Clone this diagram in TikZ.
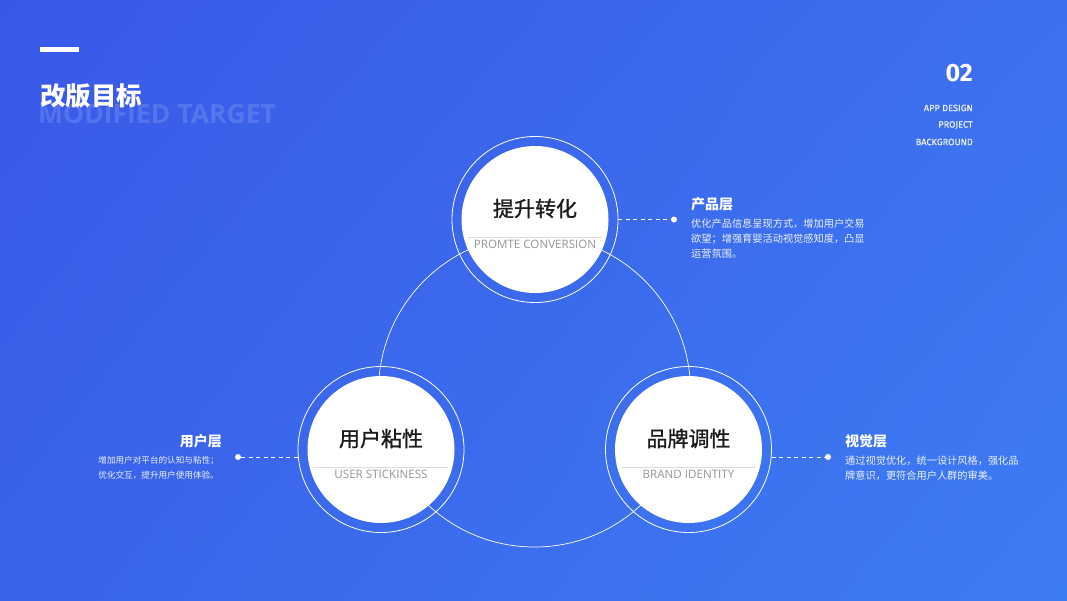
\documentclass[tikz,border=0pt]{standalone}
\usepackage{fontspec}
\setmainfont{Noto Sans CJK SC}
\newfontfamily\hubfont{Noto Sans CJK SC}[FakeBold=1.2]
\newfontfamily\enfont{Open Sans}
\newfontfamily\dinfont{Fira Sans}
\newfontfamily\dintag{Fira Sans}[FakeBold=0.8]
\usetikzlibrary{positioning,calc,shadings}
\definecolor{bgul}{HTML}{3A58E8}
\definecolor{bgur}{HTML}{3C70EF}
\definecolor{bgll}{HTML}{3A63EA}
\definecolor{bglr}{HTML}{3D7DF3}
\definecolor{chordgray}{HTML}{DDDDDD}
\definecolor{engray}{HTML}{959595}
\definecolor{hubink}{HTML}{1C1C1C}

\begin{document}
\begin{tikzpicture}[x=1pt, y=-1pt,
  hub/.style={circle, fill=white, minimum size=147pt, inner sep=0pt},
  ring/.style={draw=white, line width=0.8pt},
  orbit/.style={draw=white, line width=0.7pt},
  hubtitle/.style={font=\hubfont\fontsize{21}{21}\selectfont, text=hubink, inner sep=0pt},
  hubsub/.style={font=\enfont\fontsize{11.6}{11.6}\selectfont, text=engray, inner sep=0pt},
  chord/.style={draw=chordgray, line width=0.6pt},
  link/.style={draw=white, line width=0.7pt, dash pattern=on 4pt off 3.5pt},
  dot/.style={circle, fill=white, minimum size=6pt, inner sep=0pt},
  layer/.style={font=\bfseries\fontsize{14}{14}\selectfont, text=white, inner sep=0pt},
  note/.style={font=\fontsize{10.2}{15}\selectfont, text=white, opacity=0.9, inner sep=0pt, align=left},
  corner/.style={font=\dintag\fontsize{9.2}{9.2}\selectfont, text=white, opacity=0.85, inner sep=0pt, anchor=east},
]
  \useasboundingbox (0,0) rectangle (1067,600);
  \shade[upper left=bgul, upper right=bgur, lower left=bgll, lower right=bglr] (0,0) rectangle (1067,600);

  % header
  \fill[white] (40,47) rectangle (79,52);
  \node[anchor=west, inner sep=0pt, text=white, opacity=0.14, font=\enfont\bfseries\fontsize{26.5}{26.5}\selectfont] (entitle) at (38,114) {MODIFIED TARGET};
  \node[anchor=west, inner sep=0pt, text=white, font=\bfseries\fontsize{25.5}{25.5}\selectfont] (title) at (40,96) {改版目标};
  \node[anchor=east, inner sep=0pt, text=white, font=\dinfont\bfseries\fontsize{25}{25}\selectfont] (pageno) at (973,73) {02};
  \node[corner] (tag1) at (973,108) {APP DESIGN};
  \node[corner] (tag2) at (973,125) {PROJECT};
  \node[corner] (tag3) at (973,142) {BACKGROUND};

  % orbit behind the hubs
  \coordinate (mid) at (534.5,391);
  \draw[orbit] (mid) circle[radius=156];

  % hubs
  \foreach \name/\pos/\zh/\en in {conv/{(535,219.5)}/提升转化/PROMTE CONVERSION,
                                   user/{(381,449.5)}/用户粘性/USER STICKINESS,
                                   brand/{(688.5,449.5)}/品牌调性/BRAND IDENTITY} {
    \node[hub] (\name) at \pos {};
    \draw[ring] (\name.center) circle[radius=83];
    \draw[chord] ($(\name.center)+(-67,17.5)$) -- ($(\name.center)+(67,17.5)$);
    \node[hubtitle] (\name-zh) at ($(\name.center)+(0,-11)$) {\zh};
    \node[hubsub] (\name-en) at ($(\name.center)+(0,24.5)$) {\en};
  }

  % product layer
  \node[dot] (convdot) at (674,219.5) {};
  \draw[link] ($(conv.center)+(83,0)$) -- (convdot);
  \node[layer, anchor=west] (prodlayer) at (691,204) {产品层};
  \node[note, anchor=north west] (prodnote) at (691,219) {优化产品信息呈现方式，增加用户交易\\欲望；增强育婴活动视觉感知度，凸显\\运营氛围。};

  % user layer
  \node[dot] (userdot) at (238,457) {};
  \draw[link] (userdot) -- ($(user.center)+(-83,7.5)$);
  \node[layer, anchor=east] (userlayer) at (222,441) {用户层};
  \node[note, anchor=north east, align=right, font=\fontsize{8.6}{15}\selectfont] (usernote) at (219,456) {增加用户对平台的认知与粘性；\\优化交互，提升用户使用体验。};

  % visual layer
  \node[dot] (branddot) at (828,457) {};
  \draw[link] ($(brand.center)+(83,7.5)$) -- (branddot);
  \node[layer, anchor=west] (vislayer) at (845,441) {视觉层};
  \node[note, anchor=north west] (visnote) at (845,455.5) {通过视觉优化，统一设计风格，强化品\\牌意识，更符合用户人群的审美。};
\end{tikzpicture}
\end{document}
